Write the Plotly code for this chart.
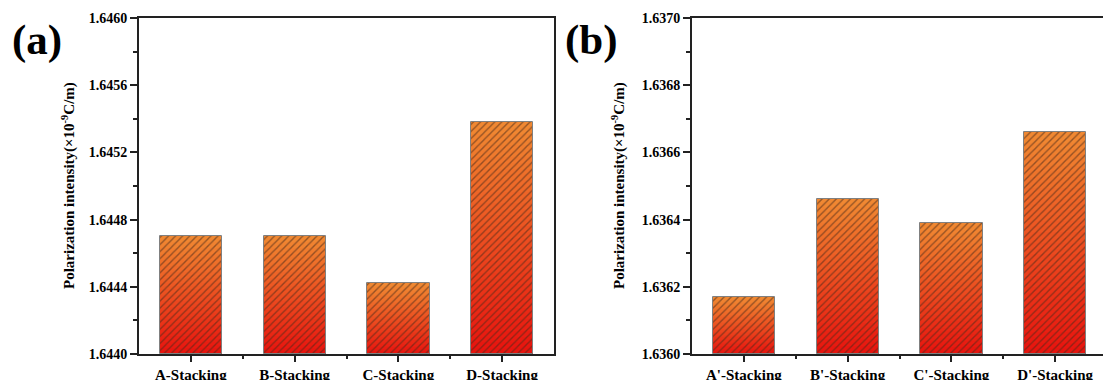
import plotly.graph_objects as go

# ---- data ----
cats_a = ["A-Stacking", "B-Stacking", "C-Stacking", "D-Stacking"]
vals_a = [1.64470, 1.64470, 1.64442, 1.64538]
cats_b = ["A'-Stacking", "B'-Stacking", "C'-Stacking", "D'-Stacking"]
vals_b = [1.63617, 1.63646, 1.63639, 1.63666]
yrange_a = [1.6440, 1.6460]
yrange_b = [1.6360, 1.6370]
ytick_step_a = 0.0004
ytick_step_b = 0.0002
ytitle = "Polarization intensity(×10<sup>-9</sup>C/m)"
panel_labels = ["(a)", "(b)"]

W, H = 1103, 380
FONT = "Liberation Serif"
AXC = "#222222"
N = 40
RED = (232, 18, 14)
ORANGE = (240, 138, 50)


def col(t):
    r = [round(RED[k] + (ORANGE[k] - RED[k]) * t) for k in range(3)]
    return f"rgb({r[0]},{r[1]},{r[2]})"


fig = go.Figure()


def add_panel(cats, vals, base0, xa, ya):
    xs = list(range(len(cats)))
    for i in range(N):
        fig.add_trace(go.Bar(
            x=xs, y=[(v - base0) / N * 1.03 for v in vals],
            base=[base0 + (v - base0) * i / N for v in vals],
            width=0.6, marker=dict(color=col((i + 0.5) / N), line=dict(width=0)),
            xaxis=xa, yaxis=ya, hoverinfo="skip", showlegend=False))
    fig.add_trace(go.Bar(
        x=xs, y=[v - base0 for v in vals], base=[base0] * len(vals),
        width=0.6,
        marker=dict(color="rgba(0,0,0,0)", line=dict(color="#808080", width=1),
                    pattern=dict(shape="/", fgcolor="#4a2a18", fgopacity=0.55,
                                 size=5, solidity=0.28, fillmode="overlay")),
        xaxis=xa, yaxis=ya, showlegend=False,
        customdata=vals, hovertemplate="%{customdata:.5f}<extra></extra>"))


add_panel(cats_a, vals_a, yrange_a[0], "x", "y")
add_panel(cats_b, vals_b, yrange_b[0], "x2", "y2")

px_per_cat = (554 - 139) / 4.0
xmax_b = -0.5 + (W - 692) / px_per_cat

ydom = [1 - 354 / H, 1 - 18 / H]

common_x = dict(showgrid=False, zeroline=False, showline=True, linecolor=AXC,
                linewidth=2, ticks="outside", ticklen=6, tickwidth=1.5,
                tickcolor=AXC, tickvals=[0, 1, 2, 3], automargin=False,
                tickfont=dict(family=FONT, size=15, color="black", weight="bold"),
                minor=dict(tickvals=[0.5, 1.5, 2.5], ticks="outside", ticklen=3,
                           tickwidth=1.5, tickcolor=AXC),
                mirror=True, fixedrange=True)
common_y = dict(showgrid=False, zeroline=False, showline=True, linecolor=AXC,
                linewidth=2, ticks="outside", ticklen=7, tickwidth=1.5,
                tickcolor=AXC, tickformat=".4f", automargin=False,
                tickfont=dict(family=FONT, size=14, color="black", weight="bold"),
                fixedrange=True)

fig.update_layout(
    width=W, height=H, margin=dict(l=0, r=0, t=0, b=0),
    paper_bgcolor="white", plot_bgcolor="white", barmode="overlay",
    bargap=0,
    xaxis=dict(common_x, domain=[139 / W, 554 / W], range=[-0.5, 3.5],
               ticktext=cats_a, anchor="y"),
    yaxis=dict(common_y, domain=ydom, range=yrange_a, dtick=ytick_step_a,
               tick0=yrange_a[0], mirror=True, anchor="x",
               minor=dict(dtick=ytick_step_a / 2, ticks="outside", ticklen=4,
                          tickwidth=1.5, tickcolor=AXC)),
    xaxis2=dict(common_x, domain=[692 / W, 1.0], range=[-0.5, xmax_b],
                ticktext=cats_b, anchor="y2"),
    yaxis2=dict(common_y, domain=ydom, range=yrange_b, dtick=ytick_step_b,
                tick0=yrange_b[0], mirror=False, anchor="x2",
                minor=dict(dtick=ytick_step_b / 2, ticks="outside", ticklen=4,
                           tickwidth=1.5, tickcolor=AXC)),
    showlegend=False,
)

ymid = (ydom[0] + ydom[1]) / 2
for xp in [68 / W, 618 / W]:
    fig.add_annotation(x=xp, y=ymid, xref="paper", yref="paper", text=ytitle,
                       textangle=-90, showarrow=False, xanchor="center",
                       yanchor="middle",
                       font=dict(family=FONT, size=15, color="black", weight="bold"))

for lab, xp in zip(panel_labels, [37 / W, 591 / W]):
    fig.add_annotation(x=xp, y=1 - 40 / H, xref="paper", yref="paper", text=lab,
                       showarrow=False, xanchor="center", yanchor="middle",
                       font=dict(family=FONT, size=43, color="black", weight="bold"))

fig.write_html(
    "out.html",
    config={"displayModeBar": False},
    post_script="document.body.style.margin='0';document.body.style.padding='0';"
                "document.body.style.overflow='hidden';",
)
